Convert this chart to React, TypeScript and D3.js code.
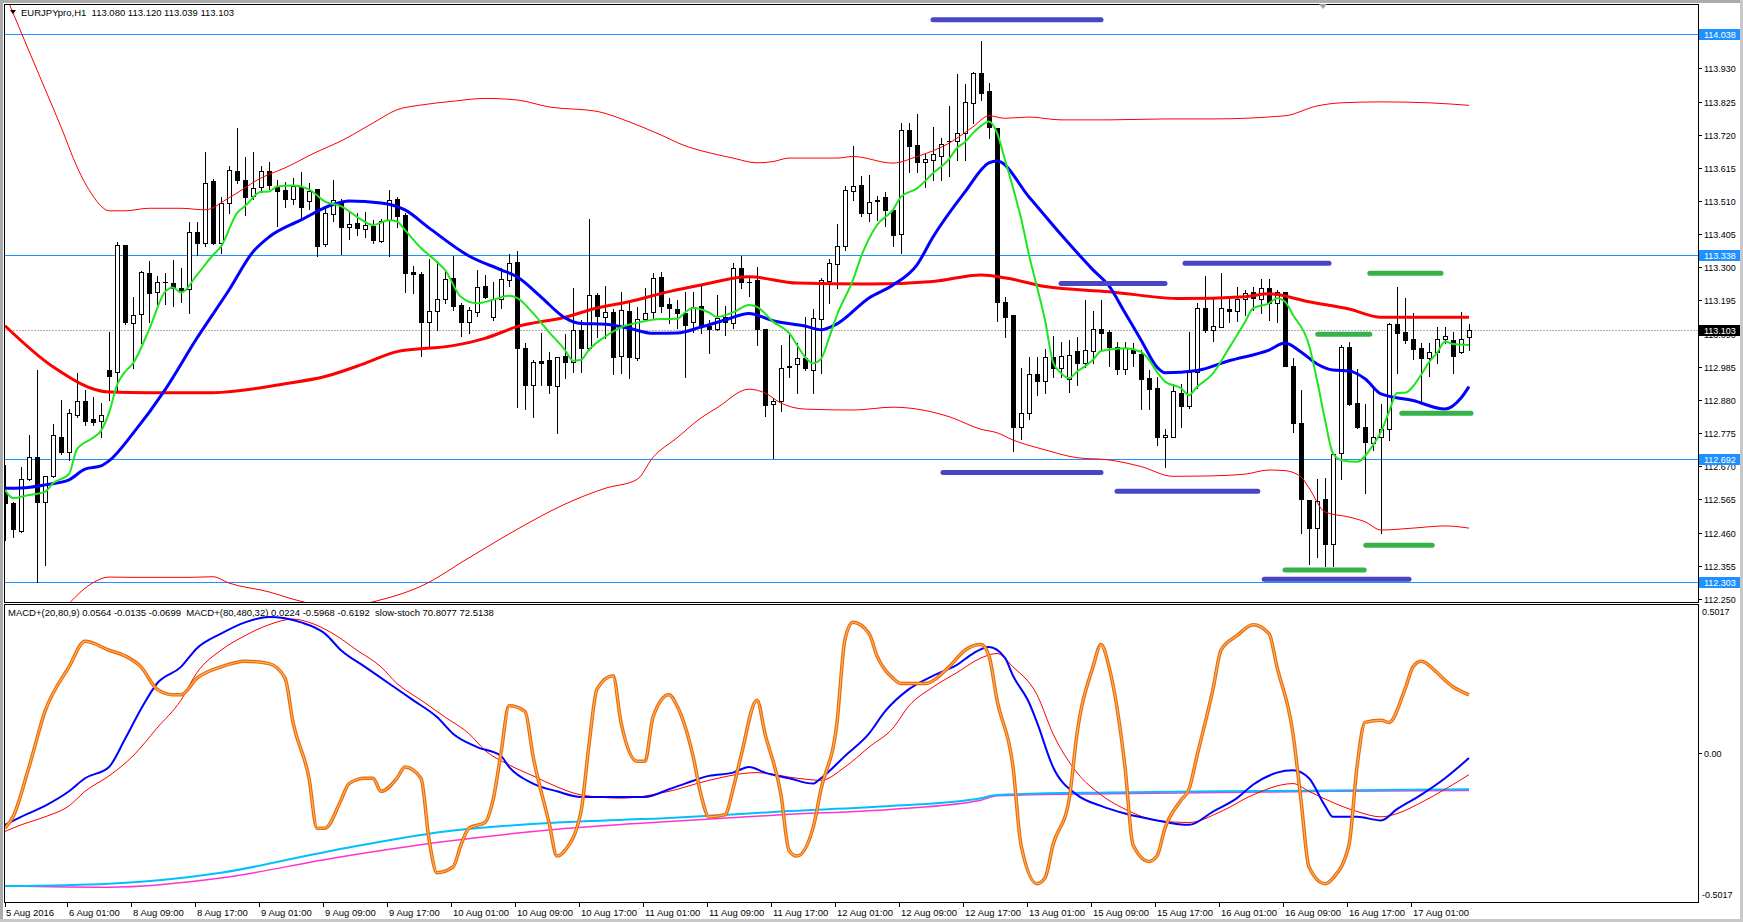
import React from "react";
import * as d3 from "d3";

// ---------- DATA ----------
const FIRST_BAR = -8;
const opens = [
  112.585,112.554,112.466,112.629,112.700,112.558,112.639,112.762,
  112.716,112.833,112.876,112.820,112.813,112.975,112.970,113.370,113.125,113.151,
  113.281,113.223,113.255,113.250,113.234,113.231,113.411,113.378,113.574,113.378,
  113.503,113.606,113.577,113.527,113.554,113.606,113.554,113.545,113.516,113.554,
  113.511,113.547,113.373,113.468,113.508,113.427,113.440,113.421,113.431,113.384,
  113.450,113.517,113.466,113.285,113.279,113.128,113.163,113.201,113.265,113.181,
  113.126,113.160,113.241,113.142,113.199,113.260,113.316,113.044,112.927,113.004,
  113.007,112.924,113.019,113.001,113.102,113.046,113.213,113.144,113.160,113.019,
  113.163,113.012,113.136,113.157,113.269,113.184,113.167,113.155,113.128,113.176,
  113.114,113.105,113.144,113.125,113.297,113.255,113.260,113.104,112.866,112.877,
  112.985,112.993,113.012,112.975,113.136,113.257,113.310,113.366,113.543,113.561,
  113.471,113.514,113.522,113.482,113.405,113.735,113.688,113.633,113.640,113.654,
  113.699,113.700,113.725,113.822,113.917,113.859,113.741,113.191,113.149,112.795,
  112.838,112.962,112.941,113.017,112.980,112.946,113.035,112.998,113.036,113.105,
  113.094,113.049,112.977,113.038,113.026,112.949,112.917,112.762,112.764,112.901,
  112.862,112.968,113.171,113.100,113.112,113.168,113.163,113.200,113.222,113.199,
  113.234,113.186,113.222,112.988,112.806,112.563,112.474,112.565,112.424,112.711,
  113.047,112.870,112.795,112.743,112.762,112.787,113.120,113.094,113.073,113.044,
  113.012,113.033,113.073,113.070,113.033,113.080,
];
const highs = [
  112.674,112.556,112.668,112.769,112.975,112.640,112.804,112.880,
  112.851,112.966,112.912,112.888,112.871,113.096,113.381,113.372,113.205,113.289,
  113.320,113.271,113.283,113.323,113.299,113.445,113.445,113.666,113.579,113.522,
  113.621,113.741,113.649,113.665,113.621,113.632,113.577,113.571,113.582,113.603,
  113.568,113.549,113.487,113.575,113.516,113.476,113.473,113.476,113.450,113.452,
  113.545,113.522,113.471,113.304,113.286,113.326,113.321,113.292,113.336,113.186,
  113.174,113.292,113.276,113.255,113.297,113.342,113.353,113.061,113.007,113.093,
  113.033,113.017,113.089,113.236,113.133,113.452,113.218,113.241,113.167,113.223,
  113.197,113.174,113.234,113.281,113.284,113.202,113.197,113.223,113.223,113.241,
  113.133,113.213,113.176,113.313,113.336,113.271,113.302,113.104,112.885,113.054,
  113.093,113.060,113.144,113.167,113.265,113.326,113.437,113.556,113.685,113.590,
  113.593,113.526,113.537,113.487,113.758,113.758,113.785,113.663,113.746,113.709,
  113.811,113.912,113.881,113.918,114.017,113.884,113.741,113.207,113.149,112.980,
  113.015,113.017,113.041,113.083,113.065,113.070,113.079,113.195,113.162,113.197,
  113.102,113.065,113.065,113.060,113.038,112.975,112.954,112.788,112.930,112.931,
  113.096,113.186,113.273,113.204,113.281,113.202,113.239,113.228,113.237,113.262,
  113.262,113.228,113.222,113.014,112.912,112.563,112.629,112.632,112.708,113.054,
  113.065,112.977,112.867,112.914,112.867,113.123,113.239,113.202,113.156,113.060,
  113.061,113.112,113.112,113.096,113.160,113.120,
];
const lows = [
  112.437,112.446,112.463,112.627,112.304,112.357,112.637,112.709,
  112.690,112.825,112.801,112.801,112.762,112.880,112.909,113.121,112.980,113.060,
  113.128,113.184,113.184,113.176,113.191,113.155,113.339,113.366,113.373,113.345,
  113.473,113.566,113.466,113.516,113.540,113.547,113.431,113.490,113.501,113.456,
  113.484,113.336,113.366,113.448,113.342,113.389,113.403,113.395,113.378,113.381,
  113.336,113.427,113.223,113.218,113.019,113.047,113.102,113.186,113.165,113.083,
  113.091,113.146,113.202,113.133,113.172,113.241,112.859,112.851,112.827,112.927,
  112.901,112.774,112.949,112.970,112.970,113.038,113.080,113.075,112.961,112.966,
  112.949,113.007,113.131,113.139,113.157,113.123,113.108,112.954,113.096,113.091,
  113.028,113.102,113.086,113.107,113.234,113.209,113.054,112.829,112.695,112.846,
  112.954,112.903,112.975,112.903,112.965,113.188,113.234,113.355,113.513,113.463,
  113.448,113.450,113.431,113.368,113.345,113.603,113.603,113.554,113.575,113.575,
  113.590,113.640,113.640,113.756,113.830,113.709,113.131,113.079,112.719,112.755,
  112.820,112.896,112.903,112.954,112.954,112.906,112.927,112.985,112.996,113.038,
  112.988,112.962,112.962,112.988,112.851,112.851,112.737,112.667,112.762,112.793,
  112.854,112.917,113.096,113.068,113.110,113.128,113.131,113.149,113.165,113.155,
  113.133,113.128,112.988,112.780,112.458,112.360,112.384,112.354,112.354,112.629,
  112.864,112.790,112.584,112.722,112.458,112.753,112.965,113.060,113.009,112.878,
  112.957,112.996,113.060,112.965,113.030,113.039,
];
const closes = [
  112.554,112.471,112.629,112.698,112.558,112.639,112.769,112.716,
  112.838,112.876,112.814,112.811,112.832,112.957,113.370,113.128,113.149,113.285,
  113.220,113.254,113.253,113.234,113.228,113.413,113.378,113.568,113.378,113.503,
  113.608,113.575,113.524,113.552,113.606,113.561,113.543,113.516,113.558,113.490,
  113.543,113.369,113.471,113.513,113.429,113.437,113.424,113.433,113.385,113.448,
  113.513,113.461,113.281,113.278,113.128,113.163,113.201,113.262,113.179,113.128,
  113.165,113.237,113.207,113.199,113.262,113.315,113.044,112.927,113.001,112.998,
  112.927,113.015,113.001,113.102,113.046,113.213,113.146,113.158,113.017,113.165,
  113.017,113.136,113.155,113.267,113.178,113.172,113.155,113.118,113.174,113.114,
  113.105,113.139,113.128,113.297,113.252,113.252,113.104,112.864,112.877,112.982,
  112.988,113.012,112.980,113.139,113.260,113.313,113.368,113.545,113.558,113.471,
  113.508,113.511,113.482,113.403,113.735,113.685,113.635,113.642,113.659,113.690,
  113.700,113.725,113.825,113.915,113.853,113.746,113.190,113.144,112.794,112.838,
  112.962,112.941,113.015,112.980,113.019,113.022,112.998,113.038,113.105,113.091,
  113.047,112.977,113.044,113.030,112.946,112.914,112.764,112.768,112.908,112.862,
  112.970,113.171,113.102,113.115,113.171,113.163,113.199,113.220,113.202,113.234,
  113.188,113.222,112.989,112.806,112.565,112.474,112.561,112.424,112.708,113.047,
  112.867,112.795,112.746,112.762,112.787,113.120,113.093,113.070,113.042,113.012,
  113.033,113.073,113.084,113.020,113.072,113.103,
];

// moving averages and bands: [bar, price]
const slowMA: [number, number][] = [
  [-8,113.115],[-2,112.985],[5,112.905],[10,112.903],[18,112.903],[27,112.931],[32,112.954],
  [37,112.996],[41,113.033],[48,113.052],[52,113.075],[56,113.112],[62,113.142],[66,113.171],
  [70,113.191],[75,113.223],[79,113.244],[85,113.270],[91,113.250],[100,113.247],[108,113.255],
  [114,113.276],[118,113.262],[122,113.239],[130,113.223],[139,113.201],[147,113.207],[150,113.216],
  [155,113.191],[160,113.168],[164,113.142],[175,113.142],
];
const midMA: [number, number][] = [
  [-8,112.600],[-6,112.601],[-3,112.611],[0,112.627],[2,112.661],[4,112.671],[5,112.687],[8,112.774],
  [12,112.912],[16,113.076],[20,113.228],[23,113.349],[25,113.396],[29,113.450],[33,113.499],[35,113.510],
  [39,113.504],[42,113.482],[45,113.425],[50,113.336],[54,113.292],[56,113.270],[59,113.206],[62,113.140],
  [64,113.122],[67,113.120],[70,113.107],[73,113.091],[76,113.092],[79,113.111],[82,113.133],[85,113.154],
  [88,113.131],[92,113.114],[94,113.102],[96,113.121],[100,113.203],[103,113.244],[106,113.308],[108,113.396],
  [112,113.539],[115,113.631],[116,113.637],[120,113.523],[124,113.404],[128,113.292],[130,113.241],
  [132,113.156],[134,113.070],[136,112.984],[137,112.966],[141,112.973],[145,113.004],[150,113.038],
  [152,113.060],[154,113.032],[156,112.994],[158,112.975],[160,112.972],[162,112.947],[164,112.899],
  [168,112.878],[172,112.851],[174,112.886],[175,112.922],
];
const fastMA: [number, number][] = [
  [-8,112.595],[-7,112.569],[-5,112.579],[-3,112.589],[-2,112.616],[0,112.646],[1,112.724],[3,112.760],
  [4,112.782],[5,112.839],[6,112.927],[7,112.969],[8,112.996],[10,113.102],[12,113.222],[13,113.236],
  [14,113.220],[16,113.276],[18,113.339],[19,113.366],[21,113.472],[22,113.494],[24,113.539],[25,113.540],
  [26,113.556],[28,113.559],[30,113.547],[32,113.508],[34,113.494],[36,113.460],[38,113.434],[40,113.449],
  [41,113.445],[42,113.418],[44,113.361],[46,113.317],[47,113.292],[49,113.206],[51,113.186],[53,113.197],
  [55,113.210],[56,113.203],[58,113.155],[60,113.095],[62,113.038],[63,113.004],[64,113.007],[65,113.039],
  [67,113.080],[69,113.110],[71,113.124],[74,113.136],[76,113.137],[77,113.157],[78,113.171],[80,113.157],
  [81,113.143],[83,113.157],[85,113.181],[86,113.175],[88,113.128],[90,113.092],[91,113.054],[92,113.016],
  [93,112.996],[94,113.010],[95,113.076],[96,113.149],[98,113.260],[99,113.333],[101,113.434],[103,113.482],
  [104,113.523],[106,113.550],[108,113.598],[110,113.643],[111,113.678],[112,113.697],[113,113.725],
  [114,113.748],[115,113.762],[116,113.726],[117,113.640],[118,113.552],[119,113.456],[120,113.339],
  [121,113.238],[122,113.133],[123,113.000],[124,112.965],[125,112.949],[126,112.969],[128,113.007],
  [129,113.035],[132,113.044],[134,113.032],[135,113.007],[136,112.969],[137,112.938],[139,112.917],
  [140,112.896],[141,112.921],[143,112.964],[145,113.044],[147,113.127],[148,113.170],[150,113.186],
  [151,113.202],[152,113.191],[153,113.149],[155,113.054],[156,112.943],[157,112.817],[158,112.711],
  [159,112.690],[161,112.684],[163,112.737],[164,112.779],[165,112.842],[166,112.902],[167,112.903],
  [169,112.959],[170,113.000],[171,113.028],[172,113.065],[173,113.057],[175,113.054],
];
const upperBand: [number, number][] = [
  [-8,114.166],[-7,114.106],[-5,113.985],[-3,113.865],[-1,113.745],[1,113.618],[2,113.567],[3,113.526],
  [4,113.494],[5,113.479],[7,113.479],[10,113.487],[14,113.487],[17,113.482],[20,113.520],[24,113.583],
  [27,113.615],[31,113.666],[34,113.700],[38,113.757],[41,113.799],[44,113.814],[48,113.826],[52,113.835],
  [56,113.830],[60,113.808],[66,113.794],[70,113.761],[74,113.719],[77,113.685],[80,113.663],[83,113.646],
  [86,113.631],[88,113.635],[90,113.646],[96,113.646],[98,113.651],[103,113.630],[106,113.651],
  [110,113.693],[113,113.745],[115,113.780],[117,113.772],[120,113.776],[124,113.767],[130,113.767],
  [137,113.770],[143,113.770],[152,113.780],[156,113.811],[159,113.821],[164,113.824],[170,113.821],
  [175,113.813],
];
const lowerBand: [number, number][] = [
  [-8,111.980],[-4,112.100],[0,112.235],[3,112.301],[5,112.319],[8,112.318],[15,112.318],[18,112.320],
  [20,112.300],[25,112.272],[28,112.249],[31,112.232],[35,112.228],[39,112.247],[44,112.290],[50,112.380],
  [56,112.470],[62,112.550],[67,112.600],[71,112.628],[73,112.698],[76,112.760],[79,112.823],[81,112.855],
  [85,112.914],[87,112.902],[89,112.870],[92,112.851],[98,112.848],[103,112.857],[110,112.827],
  [114,112.787],[116,112.776],[118,112.753],[122,112.722],[126,112.697],[130,112.690],[134,112.669],
  [138,112.638],[142,112.639],[147,112.645],[150,112.658],[152,112.656],[154,112.636],[155,112.601],
  [157,112.525],[160,112.509],[162,112.494],[164,112.468],[168,112.474],[172,112.481],[175,112.474],
];

// horizontal price levels
const levelPrices = [114.038, 113.338, 112.692, 112.303];
const bidPrice = 113.103;
const priceTicks = [113.930,113.825,113.720,113.615,113.510,113.405,113.300,113.195,113.090,
  112.985,112.880,112.775,112.670,112.565,112.460,112.355,112.250];

// drawn segments: [startBar, endBar, price]
const blueSegments: [number, number, number][] = [
  [108,129,114.084],[124,137,113.249],[139.5,157.5,113.313],
  [109.25,129,112.650],[131,148.6,112.591],[149.4,167.5,112.312],
];
const greenSegments: [number, number, number][] = [
  [162.6,171.5,113.281],[156.1,162.6,113.088],[166.6,175.25,112.838],
  [162.1,170.4,112.420],[152,161.9,112.341],
];
const shiftMarkerBar = 156.75;

// sub window: [bar, value]
const macdMain: [number, number][] = [
  [-8,-0.242],[-6,-0.215],[-3,-0.178],[0,-0.129],[2,-0.085],[5,-0.047],[7,0.047],[9,0.148],[11,0.234],
  [14,0.290],[16,0.353],[19,0.402],[22,0.440],[25,0.458],[29,0.440],[32,0.402],[34,0.346],[37,0.290],
  [40,0.234],[43,0.178],[46,0.121],[48,0.065],[51,0.020],[54,-0.010],[55,-0.047],[58,-0.103],[61,-0.129],
  [64,-0.148],[72,-0.148],[75,-0.122],[77,-0.103],[80,-0.077],[83,-0.066],[85,-0.047],[87,-0.066],
  [90,-0.085],[93,-0.103],[94,-0.085],[97,-0.010],[100,0.065],[102,0.140],[105,0.215],[108,0.260],
  [111,0.297],[113,0.335],[115,0.357],[117,0.320],[118,0.260],[120,0.170],[121,0.103],[123,-0.047],
  [126,-0.141],[129,-0.178],[132,-0.204],[136,-0.227],[140,-0.242],[143,-0.197],[146,-0.152],[148,-0.107],
  [151,-0.066],[153,-0.058],[155,-0.085],[157,-0.178],[158,-0.215],[161,-0.215],[164,-0.227],[166,-0.189],
  [169,-0.141],[172,-0.085],[175,-0.017],
];
const macdSignal: [number, number][] = [
  [-8,-0.264],[-6,-0.242],[-3,-0.215],[0,-0.178],[2,-0.129],[5,-0.077],[8,-0.010],[11,0.084],[14,0.178],
  [16,0.271],[19,0.346],[22,0.395],[25,0.432],[28,0.451],[30,0.440],[33,0.402],[36,0.346],[39,0.290],
  [41,0.234],[44,0.178],[47,0.121],[50,0.065],[52,0.009],[55,-0.040],[58,-0.077],[61,-0.114],[64,-0.141],
  [69,-0.152],[75,-0.129],[80,-0.092],[86,-0.066],[91,-0.085],[94,-0.092],[97,-0.047],[100,0.020],
  [103,0.084],[105,0.159],[108,0.222],[111,0.271],[114,0.320],[116,0.335],[118,0.290],[121,0.196],
  [123,0.065],[126,-0.066],[129,-0.141],[132,-0.189],[136,-0.227],[140,-0.234],[144,-0.197],[148,-0.141],
  [153,-0.103],[155,-0.129],[158,-0.167],[161,-0.197],[164,-0.215],[166,-0.204],[169,-0.167],[172,-0.122],
  [175,-0.073],
];
const stoch: [number, number][] = [
  [-8,-0.253],[-7,-0.215],[-5,-0.047],[-3,0.140],[0,0.290],[2,0.376],[5,0.346],[7,0.327],[9,0.290],
  [11,0.215],[13,0.196],[14,0.196],[16,0.252],[19,0.290],[22,0.309],[25,0.301],[27,0.252],[28,0.103],
  [30,-0.085],[31,-0.253],[32,-0.253],[34,-0.159],[35,-0.103],[37,-0.085],[38,-0.085],[39,-0.129],
  [41,-0.085],[42,-0.047],[44,-0.085],[45,-0.290],[46,-0.403],[48,-0.384],[49,-0.309],[50,-0.253],
  [52,-0.234],[53,-0.159],[54,0.000],[55,0.159],[57,0.140],[58,-0.010],[60,-0.234],[61,-0.347],
  [62,-0.328],[64,-0.197],[65,0.028],[66,0.215],[68,0.260],[69,0.103],[71,-0.028],[72,-0.028],
  [73,0.121],[75,0.196],[76,0.159],[78,-0.010],[79,-0.141],[80,-0.215],[82,-0.208],[83,-0.122],
  [84,-0.010],[86,0.178],[87,0.065],[89,-0.141],[90,-0.328],[91,-0.347],[93,-0.253],[94,-0.122],
  [96,0.103],[97,0.383],[98,0.440],[100,0.402],[101,0.327],[103,0.252],[104,0.234],[107,0.234],
  [110,0.290],[112,0.346],[114,0.365],[115,0.327],[116,0.178],[118,-0.047],[119,-0.309],[121,-0.440],
  [122,-0.421],[123,-0.309],[125,-0.159],[126,0.065],[128,0.290],[129,0.365],[130,0.290],[132,-0.047],
  [133,-0.309],[135,-0.365],[136,-0.347],[137,-0.253],[139,-0.159],[140,-0.122],[141,-0.010],
  [143,0.215],[144,0.346],[146,0.395],[148,0.432],[150,0.402],[151,0.290],[153,0.065],[154,-0.159],
  [155,-0.384],[157,-0.440],[158,-0.421],[160,-0.309],[161,-0.047],[162,0.103],[164,0.110],[165,0.103],
  [167,0.215],[168,0.290],[169,0.309],[171,0.271],[172,0.245],[173,0.223],[175,0.196],
];
const longMacdMain: [number, number][] = [
  [-8,-0.448],[5,-0.440],[19,-0.403],[33,-0.328],[47,-0.264],[61,-0.234],[75,-0.219],[89,-0.197],
  [103,-0.178],[114,-0.152],[116,-0.141],[130,-0.133],[144,-0.129],[158,-0.126],[175,-0.122],
];
const longMacdSignal: [number, number][] = [
  [-8,-0.448],[5,-0.452],[19,-0.421],[33,-0.354],[47,-0.298],[61,-0.257],[75,-0.231],[89,-0.208],
  [103,-0.189],[114,-0.159],[116,-0.144],[130,-0.137],[144,-0.133],[158,-0.129],[175,-0.126],
];

const timeLabelBars = [0,8,16,24,32,40,48,56,64,72,80,88,96,104,112,120,128,136,144,152,160,168];
const timeLabels = ["6 Aug 01:00","8 Aug 09:00","8 Aug 17:00","9 Aug 01:00","9 Aug 09:00","9 Aug 17:00",
  "10 Aug 01:00","10 Aug 09:00","10 Aug 17:00","11 Aug 01:00","11 Aug 09:00","11 Aug 17:00",
  "12 Aug 01:00","12 Aug 09:00","12 Aug 17:00","13 Aug 01:00","15 Aug 09:00","15 Aug 17:00",
  "16 Aug 01:00","16 Aug 09:00","16 Aug 17:00","17 Aug 01:00"];
const firstDateLabel = "5 Aug 2016";

const mainTitle = "EURJPYpro,H1  113.080 113.120 113.039 113.103";
const subTitle = "MACD+(20,80,9) 0.0564 -0.0135 -0.0699  MACD+(80,480,32) 0.0224 -0.5968 -0.6192  slow-stoch 70.8077 72.5138";
const subMax = 0.5017;

// ---------- CHART ----------
const W = 1743, H = 922;
const L = 4, R = 1698;
const MT = 4, MB = 602, ST = 604, SB = 902;
const FONT = "'Liberation Sans', Arial, sans-serif";

export default function App() {
  const x = d3.scaleLinear().domain([0, 175]).range([69, 1469]);
  const y = d3.scaleLinear().domain([112.24, 114.134]).range([MB, MT]);
  const ys = d3.scaleLinear().domain([-subMax, subMax]).range([SB, ST]);

  const mainLine = d3.line<[number, number]>().x(d => x(d[0])).y(d => y(d[1])).curve(d3.curveMonotoneX);
  const subLine = d3.line<[number, number]>().x(d => x(d[0])).y(d => ys(d[1])).curve(d3.curveMonotoneX);

  const candles = opens.map((o, k) => {
    const bar = FIRST_BAR + k;
    const cx = Math.round(x(bar));
    const h = highs[k], l = lows[k], c = closes[k];
    const bull = c > o;
    const yt = Math.round(y(Math.max(o, c)));
    const yb = Math.round(y(Math.min(o, c)));
    return (
      <g key={k}>
        <line x1={cx + 0.5} x2={cx + 0.5} y1={Math.round(y(h))} y2={Math.round(y(l)) + 1} stroke="#000" strokeWidth={1} />
        {yb - yt < 1 ? (
          <line x1={cx - 2} x2={cx + 3} y1={yt + 0.5} y2={yt + 0.5} stroke="#000" />
        ) : (
          <rect x={cx - 1.5} y={yt + 0.5} width={4} height={yb - yt} fill={bull ? "#fff" : "#000"} stroke="#000" strokeWidth={1} />
        )}
      </g>
    );
  });

  const bidY = Math.round(y(bidPrice)) + 0.5;
  const shiftX = x(shiftMarkerBar);

  return (
    <svg width={W} height={H} style={{ position: "absolute", left: 0, top: 0, display: "block", background: "#fff" }}
      fontFamily={FONT}>
      <defs>
        <clipPath id="mainClip"><rect x={L + 1} y={MT + 1} width={R - L - 1} height={MB - MT - 1} /></clipPath>
        <clipPath id="subClip"><rect x={L + 1} y={ST + 1} width={R - L - 1} height={SB - ST - 1} /></clipPath>
      </defs>
      <rect x={0} y={0} width={W} height={H} fill="#fff" />
      {/* window border */}
      <rect x={0} y={0} width={W} height={3} fill="#ABABAB" />
      <rect x={0} y={0} width={3} height={H} fill="#ABABAB" />
      <rect x={W - 3} y={0} width={3} height={H} fill="#C8C8C8" />
      <rect x={0} y={H - 3} width={W} height={3} fill="#C8C8C8" />

      {/* main chart */}
      <g clipPath="url(#mainClip)">
        {levelPrices.map((p, k) => (
          <line key={k} x1={L} x2={R} y1={Math.round(y(p)) + 0.5} y2={Math.round(y(p)) + 0.5} stroke="#1E90FF" strokeWidth={1} />
        ))}
        <line x1={L} x2={R} y1={bidY} y2={bidY} stroke="#B8A8B8" strokeWidth={1} strokeDasharray="2,1" />
        {candles}
        <path d={mainLine(upperBand) || ""} fill="none" stroke="#FF0000" strokeWidth={1} />
        <path d={mainLine(lowerBand) || ""} fill="none" stroke="#FF0000" strokeWidth={1} />
        <path d={mainLine(slowMA) || ""} fill="none" stroke="#FF0000" strokeWidth={3} />
        <path d={mainLine(midMA) || ""} fill="none" stroke="#0000FF" strokeWidth={3} />
        <path d={mainLine(fastMA) || ""} fill="none" stroke="#1EE61E" strokeWidth={2} />
        {blueSegments.map((s, k) => (
          <line key={"b" + k} x1={x(s[0])} x2={x(s[1])} y1={y(s[2])} y2={y(s[2])} stroke="#4646C6" strokeWidth={5} strokeLinecap="round" />
        ))}
        {greenSegments.map((s, k) => (
          <line key={"g" + k} x1={x(s[0])} x2={x(s[1])} y1={y(s[2])} y2={y(s[2])} stroke="#36B24A" strokeWidth={5} strokeLinecap="round" />
        ))}
      </g>
      <rect x={L + 0.5} y={MT + 0.5} width={R - L} height={MB - MT} fill="none" stroke="#000" />
      <path d="M10,10 L16,10 L13,14 Z" fill="#000" />
      <text x={21} y={16} fontSize={9.5} fill="#000" style={{ whiteSpace: "pre" }}>{mainTitle}</text>
      <path d={`M${shiftX - 4},4 L${shiftX + 4},4 L${shiftX},9 Z`} fill="#A0A0A0" />

      {/* price axis */}
      {priceTicks.map((p, k) => {
        const ty = Math.round(y(p)) + 0.5;
        return (
          <g key={k}>
            <line x1={R} x2={R + 4} y1={ty} y2={ty} stroke="#000" />
            <text x={R + 6} y={ty + 3.5} fontSize={9} fill="#000">{p.toFixed(3)}</text>
          </g>
        );
      })}
      {levelPrices.map((p, k) => {
        const ty = Math.round(y(p));
        return (
          <g key={k}>
            <rect x={R + 1} y={ty - 5} width={W - R - 4} height={11} fill="#1E90FF" />
            <text x={R + 6} y={ty + 4} fontSize={9} fill="#fff">{p.toFixed(3)}</text>
          </g>
        );
      })}
      <rect x={R + 1} y={Math.round(y(bidPrice)) - 5} width={W - R - 4} height={11} fill="#000" />
      <text x={R + 6} y={Math.round(y(bidPrice)) + 4} fontSize={9} fill="#fff">{bidPrice.toFixed(3)}</text>

      {/* sub window */}
      <g clipPath="url(#subClip)">
        <path d={subLine(longMacdSignal) || ""} fill="none" stroke="#FF33CC" strokeWidth={1.5} />
        <path d={subLine(longMacdMain) || ""} fill="none" stroke="#00BFFF" strokeWidth={2} />
        <path d={subLine(macdSignal) || ""} fill="none" stroke="#FF0000" strokeWidth={1} />
        <path d={subLine(macdMain) || ""} fill="none" stroke="#0000FF" strokeWidth={2} />
        <path d={subLine(stoch) || ""} fill="none" stroke="#E86A10" strokeWidth={3.5} />
        <path d={subLine(stoch) || ""} fill="none" stroke="#FFB050" strokeWidth={1.2} />
      </g>
      <rect x={L + 0.5} y={ST + 0.5} width={R - L} height={SB - ST} fill="none" stroke="#000" />
      <text x={8} y={616} fontSize={9.5} fill="#000" style={{ whiteSpace: "pre" }}>{subTitle}</text>
      <text x={R + 4} y={ST + 11} fontSize={9} fill="#000">{subMax.toFixed(4)}</text>
      <line x1={R} x2={R + 4} y1={Math.round(ys(0)) + 0.5} y2={Math.round(ys(0)) + 0.5} stroke="#000" />
      <text x={R + 6} y={ys(0) + 3.5} fontSize={9} fill="#000">0.00</text>
      <text x={R + 4} y={SB - 4} fontSize={9} fill="#000">{(-subMax).toFixed(4)}</text>

      {/* time axis */}
      <line x1={L + 1.5} x2={L + 1.5} y1={SB} y2={SB + 5} stroke="#000" />
      <text x={L + 2} y={916} fontSize={9.5} fill="#000">{firstDateLabel}</text>
      {timeLabelBars.map((b, k) => {
        const tx = Math.round(x(b));
        return (
          <g key={k}>
            <line x1={tx - 1.5} x2={tx - 1.5} y1={SB} y2={SB + 5} stroke="#000" />
            <text x={tx} y={916} fontSize={9.5} fill="#000">{timeLabels[k]}</text>
          </g>
        );
      })}
    </svg>
  );
}
